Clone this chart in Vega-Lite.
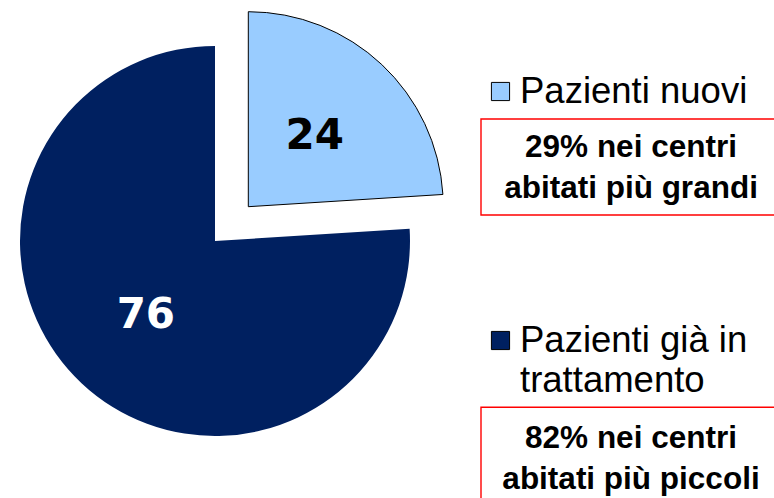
{
  "$schema": "https://vega.github.io/schema/vega-lite/v6.json",
  "width": 774,
  "height": 498,
  "autosize": {"type": "none"},
  "padding": 0,
  "background": "white",
  "config": {"view": {"stroke": null}},
  "data": {
    "values": [
      {"category": "Pazienti nuovi", "value": 24, "note": "29% nei centri\nabitati più grandi"},
      {"category": "Pazienti già in\ntrattamento", "value": 76, "note": "82% nei centri\nabitati più piccoli"}
    ]
  },
  "layer": [
    {
      "mark": {"type": "arc", "outerRadius": 195, "xOffset": -172, "yOffset": -8},
      "encoding": {
        "theta": {"field": "value", "type": "quantitative", "stack": true},
        "order": {"field": "value", "type": "quantitative", "sort": "ascending"},
        "color": {
          "field": "category", "type": "nominal",
          "scale": {"domain": ["Pazienti nuovi", "Pazienti già in\ntrattamento"], "range": ["#99CCFF", "#002060"]},
          "legend": null
        },
        "opacity": {"condition": {"test": "datum.category === 'Pazienti nuovi'", "value": 0}, "value": 1}
      }
    },
    {
      "mark": {"type": "arc", "outerRadius": 195, "xOffset": -138.7, "yOffset": -42.3, "stroke": "#000000", "strokeWidth": 1},
      "encoding": {
        "theta": {"field": "value", "type": "quantitative", "stack": true},
        "order": {"field": "value", "type": "quantitative", "sort": "ascending"},
        "color": {"field": "category", "type": "nominal", "legend": null},
        "opacity": {"condition": {"test": "datum.category === 'Pazienti nuovi'", "value": 1}, "value": 0}
      }
    },
    {
      "mark": {"type": "text", "radius": 101, "xOffset": -172, "yOffset": -8, "font": "DejaVu Sans", "fontWeight": "bold", "fontSize": 42, "color": "white", "baseline": "middle", "align": "center"},
      "encoding": {
        "theta": {"field": "value", "type": "quantitative", "stack": true},
        "order": {"field": "value", "type": "quantitative", "sort": "ascending"},
        "text": {"field": "value", "type": "quantitative"},
        "opacity": {"condition": {"test": "datum.category === 'Pazienti nuovi'", "value": 0}, "value": 1}
      }
    },
    {
      "mark": {"type": "text", "radius": 97, "xOffset": -138.7, "yOffset": -42.3, "font": "DejaVu Sans", "fontWeight": "bold", "fontSize": 42, "color": "black", "baseline": "middle", "align": "center"},
      "encoding": {
        "theta": {"field": "value", "type": "quantitative", "stack": true},
        "order": {"field": "value", "type": "quantitative", "sort": "ascending"},
        "text": {"field": "value", "type": "quantitative"},
        "opacity": {"condition": {"test": "datum.category === 'Pazienti nuovi'", "value": 1}, "value": 0}
      }
    },
    {
      "mark": {"type": "point", "shape": "square", "filled": true, "size": 330, "stroke": "#000000", "strokeWidth": 1, "opacity": 1, "xOffset": 113.5, "yOffset": -33},
      "encoding": {
        "y": {"field": "category", "type": "nominal", "scale": {"type": "band", "domain": ["Pazienti nuovi", "Pazienti già in\ntrattamento"], "paddingInner": 0, "paddingOuter": 0}, "axis": null},
        "color": {"field": "category", "type": "nominal", "legend": null}
      }
    },
    {
      "mark": {"type": "text", "align": "left", "baseline": "alphabetic", "font": "Liberation Sans", "fontSize": 36.5, "lineBreak": "\n", "lineHeight": 40, "color": "black", "xOffset": 133, "yOffset": -21.7},
      "encoding": {
        "y": {"field": "category", "type": "nominal", "axis": null},
        "text": {"field": "category", "type": "nominal"}
      }
    },
    {
      "transform": [{"filter": "datum.category === 'Pazienti nuovi'"}],
      "layer": [
        {
          "mark": {"type": "point", "shape": "M-1,-0.32L1,-0.32L1,0.32L-1,0.32Z", "size": 90000, "filled": false, "stroke": "#FF0000", "strokeWidth": 1.4, "opacity": 1, "xOffset": 244, "yOffset": 42.5},
          "encoding": {"y": {"field": "category", "type": "nominal", "axis": null}}
        },
        {
          "mark": {"type": "text", "align": "center", "baseline": "alphabetic", "font": "Liberation Sans", "fontWeight": "bold", "fontSize": 31.5, "lineBreak": "\n", "lineHeight": 40.7, "color": "black", "xOffset": 244, "yOffset": 32.8},
          "encoding": {
            "y": {"field": "category", "type": "nominal", "axis": null},
            "text": {"field": "note", "type": "nominal"}
          }
        }
      ]
    },
    {
      "transform": [{"filter": "datum.category !== 'Pazienti nuovi'"}],
      "layer": [
        {
          "mark": {"type": "point", "shape": "M-1,-0.32L1,-0.32L1,0.32L-1,0.32Z", "size": 90000, "filled": false, "stroke": "#FF0000", "strokeWidth": 1.4, "opacity": 1, "xOffset": 244, "yOffset": 81.8},
          "encoding": {"y": {"field": "category", "type": "nominal", "axis": null}}
        },
        {
          "mark": {"type": "text", "align": "center", "baseline": "alphabetic", "font": "Liberation Sans", "fontWeight": "bold", "fontSize": 31.5, "lineBreak": "\n", "lineHeight": 40.7, "color": "black", "xOffset": 244, "yOffset": 74.5},
          "encoding": {
            "y": {"field": "category", "type": "nominal", "axis": null},
            "text": {"field": "note", "type": "nominal"}
          }
        }
      ]
    }
  ]
}
